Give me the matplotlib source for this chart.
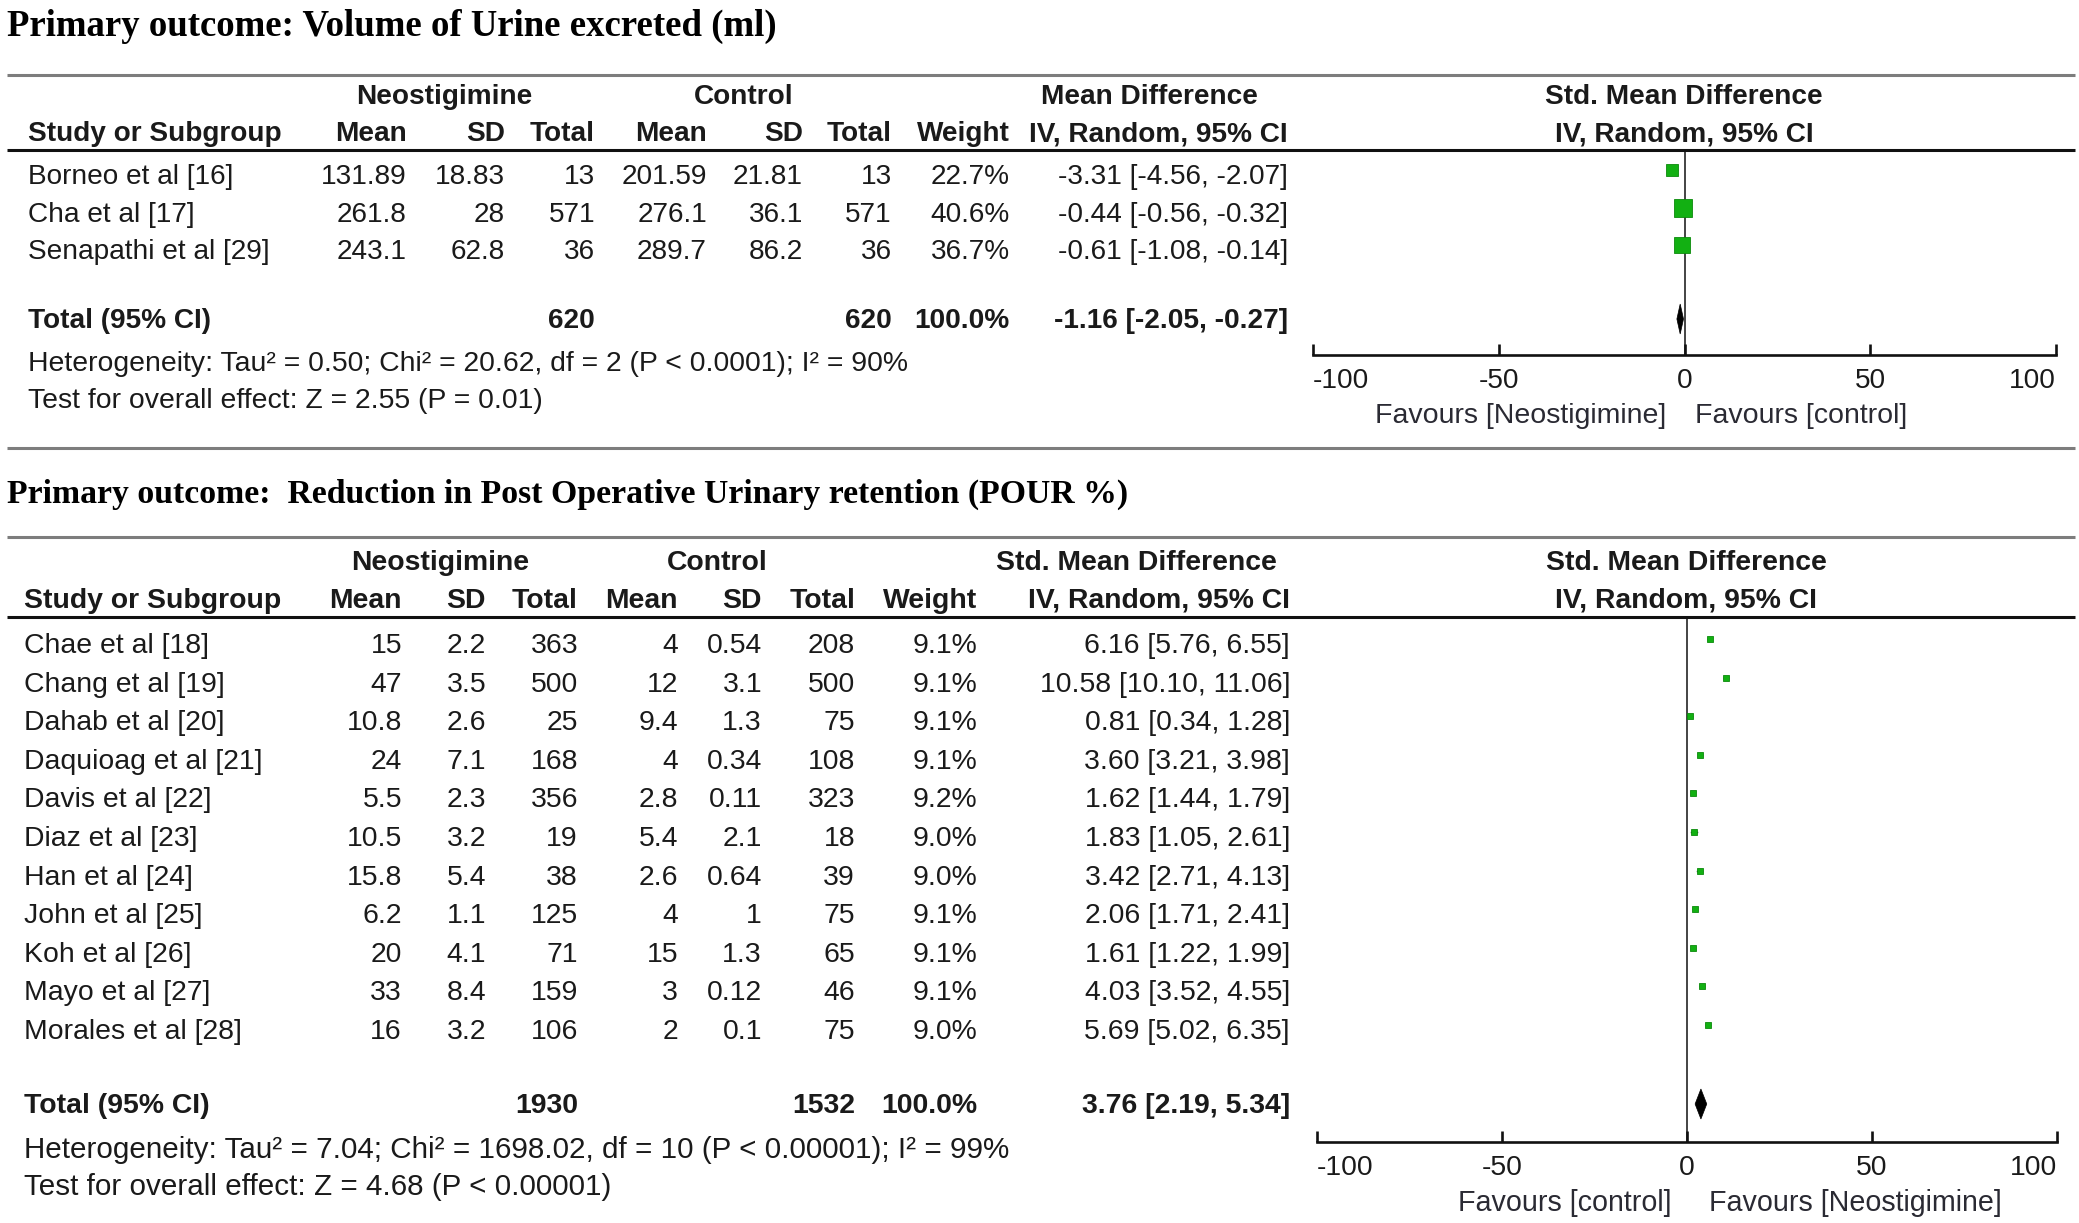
import matplotlib
matplotlib.use("Agg")
import matplotlib.pyplot as plt

plt.rcParams['axes.unicode_minus'] = False

# ---------------- data: panel 1 (Volume of urine excreted) ----------------
p1_title = "Primary outcome: Volume of Urine excreted (ml)"
p1_effect_header = "Mean Difference"
p1_studies = ["Borneo et al [16]", "Cha et al [17]", "Senapathi et al [29]"]
p1_neo_mean = ["131.89", "261.8", "243.1"]
p1_neo_sd = ["18.83", "28", "62.8"]
p1_neo_n = [13, 571, 36]
p1_ctl_mean = ["201.59", "276.1", "289.7"]
p1_ctl_sd = ["21.81", "36.1", "86.2"]
p1_ctl_n = [13, 571, 36]
p1_weight = [22.7, 40.6, 36.7]
p1_est = [-3.31, -0.44, -0.61]
p1_lo = [-4.56, -0.56, -1.08]
p1_hi = [-2.07, -0.32, -0.14]
p1_total_n = [620, 620]
p1_total_weight = 100.0
p1_total = [-1.16, -2.05, -0.27]
p1_het = "Heterogeneity: Tau\u00b2 = 0.50; Chi\u00b2 = 20.62, df = 2 (P < 0.0001); I\u00b2 = 90%"
p1_test = "Test for overall effect: Z = 2.55 (P = 0.01)"
p1_favours = ["Favours [Neostigimine]", "Favours [control]"]

# ---------------- data: panel 2 (POUR %) ----------------
p2_title = "Primary outcome:  Reduction in Post Operative Urinary retention (POUR %)"
p2_effect_header = "Std. Mean Difference"
p2_studies = ["Chae et al [18]", "Chang et al [19]", "Dahab et al [20]", "Daquioag et al [21]",
              "Davis et al [22]", "Diaz et al [23]", "Han et al [24]", "John et al [25]",
              "Koh et al [26]", "Mayo et al [27]", "Morales et al [28]"]
p2_neo_mean = ["15", "47", "10.8", "24", "5.5", "10.5", "15.8", "6.2", "20", "33", "16"]
p2_neo_sd = ["2.2", "3.5", "2.6", "7.1", "2.3", "3.2", "5.4", "1.1", "4.1", "8.4", "3.2"]
p2_neo_n = [363, 500, 25, 168, 356, 19, 38, 125, 71, 159, 106]
p2_ctl_mean = ["4", "12", "9.4", "4", "2.8", "5.4", "2.6", "4", "15", "3", "2"]
p2_ctl_sd = ["0.54", "3.1", "1.3", "0.34", "0.11", "2.1", "0.64", "1", "1.3", "0.12", "0.1"]
p2_ctl_n = [208, 500, 75, 108, 323, 18, 39, 75, 65, 46, 75]
p2_weight = [9.1, 9.1, 9.1, 9.1, 9.2, 9.0, 9.0, 9.1, 9.1, 9.1, 9.0]
p2_est = [6.16, 10.58, 0.81, 3.60, 1.62, 1.83, 3.42, 2.06, 1.61, 4.03, 5.69]
p2_lo = [5.76, 10.10, 0.34, 3.21, 1.44, 1.05, 2.71, 1.71, 1.22, 3.52, 5.02]
p2_hi = [6.55, 11.06, 1.28, 3.98, 1.79, 2.61, 4.13, 2.41, 1.99, 4.55, 6.35]
p2_total_n = [1930, 1532]
p2_total_weight = 100.0
p2_total = [3.76, 2.19, 5.34]
p2_het = "Heterogeneity: Tau\u00b2 = 7.04; Chi\u00b2 = 1698.02, df = 10 (P < 0.00001); I\u00b2 = 99%"
p2_test = "Test for overall effect: Z = 4.68 (P < 0.00001)"
p2_favours = ["Favours [control]", "Favours [Neostigimine]"]

axis_ticks = [-100, -50, 0, 50, 100]
axis_labels = ["-100", "-50", "0", "50", "100"]

# ---------------- figure ----------------
W, H = 2079, 1223
fig = plt.figure(figsize=(W / 100, H / 100), dpi=100)
bg = fig.add_axes([0, 0, 1, 1])
bg.set_xlim(0, W)
bg.set_ylim(H, 0)
bg.axis('off')

SANS = 'Liberation Sans'
SERIF = 'Liberation Serif'
TXT = '#1a1a1a'
GREEN = '#12b012'
GREEN_EDGE = '#0b8a0b'
DY = 3  # visual centring correction for text


def T(x, y, s, ha='left', fs=20, bold=False, family=SANS, color=TXT):
    bg.text(x, y + DY, s, ha=ha, va='center', fontsize=fs, family=family,
            fontweight='bold' if bold else 'normal', color=color)


def hline(y, color, lw):
    bg.plot([7, 2075], [y, y], color=color, lw=lw, solid_capstyle='butt')


def panel(L, title, eff_header, studies, nm, nsd, nn, cm, csd, cn, wt,
          est, lo, hi, tot_n, tot_w, tot, het, test, favours):
    fs = L['fs']
    hfs = L['hfs']
    T(7, L['title_y'], title, fs=L['title_fs'], bold=True, family=SERIF, color='black')
    hline(L['gray_y'], '#7d7d7d', 2.2)
    # header row 1
    T(L['neo_c'], L['h1'], "Neostigimine", ha='center', fs=hfs, bold=True)
    T(L['ctl_c'], L['h1'], "Control", ha='center', fs=hfs, bold=True)
    T(L['eff_c'], L['h1'], eff_header, ha='center', fs=hfs, bold=True)
    T(L['plot_c'], L['h1'], "Std. Mean Difference", ha='center', fs=hfs, bold=True)
    # header row 2
    cols = L['cols']
    T(L['study_x'], L['h2'], "Study or Subgroup", fs=hfs, bold=True)
    for x, s in zip(cols, ["Mean", "SD", "Total", "Mean", "SD", "Total", "Weight",
                           "IV, Random, 95% CI"]):
        T(x, L['h2'], s, ha='right', fs=hfs, bold=True)
    T(L['plot_c'], L['h2'], "IV, Random, 95% CI", ha='center', fs=hfs, bold=True)
    hline(L['thick_y'], '#111111', 2.2)
    # study rows
    ys = [L['row0'] + i * L['step'] for i in range(len(studies))]
    for i, y in enumerate(ys):
        T(L['study_x'], y, studies[i], fs=fs)
        vals = [nm[i], nsd[i], str(nn[i]), cm[i], csd[i], str(cn[i]),
                f"{wt[i]:.1f}%", f"{est[i]:.2f} [{lo[i]:.2f}, {hi[i]:.2f}]"]
        for x, s in zip(cols, vals):
            T(x, y, s, ha='right', fs=fs)
    # total row
    ty = L['total_y']
    T(L['study_x'], ty, "Total (95% CI)", fs=fs, bold=True)
    T(cols[2], ty, str(tot_n[0]), ha='right', fs=fs, bold=True)
    T(cols[5], ty, str(tot_n[1]), ha='right', fs=fs, bold=True)
    T(cols[6], ty, f"{tot_w:.1f}%", ha='right', fs=fs, bold=True)
    T(cols[7], ty, f"{tot[0]:.2f} [{tot[1]:.2f}, {tot[2]:.2f}]", ha='right', fs=fs, bold=True)
    T(L['study_x'], L['het_y'], het, fs=L['het_fs'])
    T(L['study_x'], L['test_y'], test, fs=L['het_fs'])

    # forest plot axes
    x0, x1 = L['ax_x']
    y0, y1 = L['thick_y'], L['axis_y']
    ax = fig.add_axes([x0 / W, 1 - y1 / H, (x1 - x0) / W, (y1 - y0) / H])
    ax.set_xlim(-100, 100)
    ax.set_ylim(y1, y0)
    ax.patch.set_alpha(0)
    for s in ['top', 'right', 'left']:
        ax.spines[s].set_visible(False)
    ax.spines['bottom'].set_linewidth(1.9)
    ax.spines['bottom'].set_color('#111111')
    ax.set_yticks([])
    ax.set_xticks(axis_ticks)
    ax.set_xticklabels(axis_labels, fontsize=fs, family=SANS, color=TXT)
    labs = ax.get_xticklabels()
    labs[0].set_ha('left')
    labs[-1].set_ha('right')
    ax.tick_params(axis='x', direction='in', length=8, width=1.9, pad=9.5, color='#111111')
    ax.axvline(0, color='#111111', lw=1.1)
    for e, l, h, w, y in zip(est, lo, hi, wt, ys):
        ym = y - L['sq_dy']
        ax.plot([l, h], [ym, ym], color='#111111', lw=1)
        ms = (2.6 + 0.39 * w) * 0.72
        ax.plot(e, ym, 's', ms=ms, color=GREEN, mec=GREEN_EDGE, mew=0.6)
    hd = 15
    tyd = ty + 1
    ax.fill([tot[1], tot[0], tot[2], tot[0]], [tyd, tyd - hd, tyd, tyd + hd],
            color='black', lw=0.5)
    T(L['fav_c'][0], L['fav_y'], favours[0], ha='center', fs=L['fav_fs'], color='#2a2a33')
    T(L['fav_c'][1], L['fav_y'], favours[1], ha='center', fs=L['fav_fs'], color='#2a2a33')


L1 = dict(fs=20.2, hfs=20.2, het_fs=20.4, fav_fs=20.5, title_fs=26.5, title_y=23, gray_y=75,
          h1=94, h2=131, thick_y=150,
          neo_c=444, ctl_c=744, eff_c=1149, plot_c=1684, study_x=28,
          cols=[407, 505, 595, 707, 803, 892, 1010, 1288],
          row0=174, step=37.5, sq_dy=4, total_y=318, het_y=361, test_y=398,
          ax_x=(1313, 2056), axis_y=355, fav_y=413, fav_c=(1521, 1801))

L2 = dict(fs=20.4, hfs=20.4, het_fs=21.3, fav_fs=20.6, title_fs=24.3, title_y=491, gray_y=537,
          h1=560, h2=598, thick_y=617,
          neo_c=440, ctl_c=717, eff_c=1136, plot_c=1686, study_x=24,
          cols=[402, 486, 578, 678, 762, 855, 977, 1290],
          row0=643, step=38.6, sq_dy=4, total_y=1103, het_y=1147, test_y=1184,
          ax_x=(1317, 2057), axis_y=1142, fav_y=1200, fav_c=(1565, 1855))

panel(L1, p1_title, p1_effect_header, p1_studies, p1_neo_mean, p1_neo_sd, p1_neo_n,
      p1_ctl_mean, p1_ctl_sd, p1_ctl_n, p1_weight, p1_est, p1_lo, p1_hi,
      p1_total_n, p1_total_weight, p1_total, p1_het, p1_test, p1_favours)
hline(448, '#7d7d7d', 2.2)
panel(L2, p2_title, p2_effect_header, p2_studies, p2_neo_mean, p2_neo_sd, p2_neo_n,
      p2_ctl_mean, p2_ctl_sd, p2_ctl_n, p2_weight, p2_est, p2_lo, p2_hi,
      p2_total_n, p2_total_weight, p2_total, p2_het, p2_test, p2_favours)

fig.savefig("out.png", dpi=100, facecolor='white')
